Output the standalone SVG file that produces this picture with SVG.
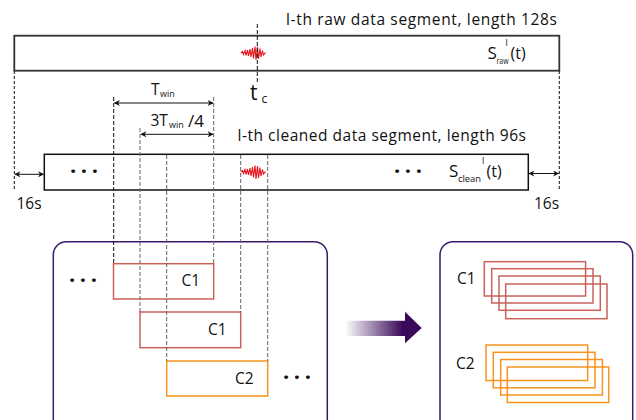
<svg xmlns="http://www.w3.org/2000/svg" width="636" height="420" viewBox="0 0 636 420">
<style>
text{font-family:"Open Sans","DejaVu Sans",sans-serif;fill:#111}
.lbl{font-size:15.5px}
.sub{font-size:9px}
.seg{fill:#fff;stroke:#333;stroke-width:1.8}
.dk{stroke:#111;stroke-width:1;stroke-dasharray:4 2;fill:none}
.gr{stroke:#666;stroke-width:1;stroke-dasharray:4 2;fill:none}
.ar{stroke:#111;stroke-width:1;fill:none;marker-start:url(#ah);marker-end:url(#ah)}
.sq{stroke:#e8141b;stroke-width:1.1;fill:none}
.red{fill:none;stroke:#c9625a;stroke-width:1.5}
.org{fill:none;stroke:#f7931e;stroke-width:1.5}
.box{fill:#fff;stroke:#3c1a6b;stroke-width:1.5}
.dot{font-size:22px;font-weight:bold}
</style>
<defs>
<marker id="ah" viewBox="0 0 10 10" refX="9" refY="5" markerWidth="8" markerHeight="6" markerUnits="userSpaceOnUse" orient="auto-start-reverse">
<path d="M0,0 L10,5 L0,10 L3,5 Z" fill="#111"/>
</marker>
<linearGradient id="g" x1="0" y1="0" x2="1" y2="0">
<stop offset="0" stop-color="#3a0a5a" stop-opacity="0"/>
<stop offset="0.75" stop-color="#3a0a5a"/>
<stop offset="1" stop-color="#3a0a5a"/>
</linearGradient>
</defs>

<g id="raw-segment">
<rect class="seg" x="14.3" y="35.7" width="545" height="35"/>
<text class="lbl" x="286" y="25" textLength="271" lengthAdjust="spacing">l-th raw data  segment, length 128s</text>
<path class="sq" d="M241,53 L242.5,51.5 L243.5,54.5 L245,50.5 L246,55.5 L247.5,50 L248.5,56 L250,49 L251,57 L252.5,48 L253.5,58.5 L255,46.5 L256,60 L257.5,47 L258.5,59 L260,48.5 L261,57 L262.5,50.5 L263.5,55 L265,53 L266,53"/>
<text x="487.5" y="59" style="font-size:17px">S</text>
<text class="sub" x="496.5" y="63.5" textLength="12" lengthAdjust="spacingAndGlyphs">raw</text>
<text class="sub" x="505.5" y="45.5">l</text>
<text x="510.5" y="59" style="font-size:16px">(t)</text>
</g>

<g id="tc">
<text x="250" y="100" style="font-size:21px">t</text>
<text x="261.5" y="102.5" style="font-size:12px">c</text>
</g>

<g id="clean-segment">
<rect class="seg" x="44.3" y="154.3" width="484" height="35.7" style="stroke:#111;stroke-width:1.5"/>
<text class="lbl" x="237.5" y="140.5" textLength="288.5" lengthAdjust="spacing">l-th cleaned data segment, length 96s</text>
<text class="dot" x="70" y="179" textLength="28" lengthAdjust="spacing">· · ·</text>
<text class="dot" x="394" y="179" textLength="28" lengthAdjust="spacing">· · ·</text>
<path class="sq" d="M241,172 L242.5,170.5 L243.5,173.5 L245,169.5 L246,174.5 L247.5,169 L248.5,175 L250,168 L251,176 L252.5,167 L253.5,177.5 L255,165.5 L256,179 L257.5,166 L258.5,178 L260,167.5 L261,176 L262.5,169.5 L263.5,174 L265,172 L266,172"/>
<text x="449" y="177" style="font-size:17px">S</text>
<text class="sub" x="458" y="181.5" textLength="23" lengthAdjust="spacingAndGlyphs">clean</text>
<text class="sub" x="482" y="163.5">l</text>
<text x="486.5" y="177" style="font-size:16px">(t)</text>
</g>

<g id="labels">
<text x="151" y="95" style="font-size:15.5px">T</text>
<text class="sub" x="160" y="97">win</text>
<text x="150.5" y="126" style="font-size:15.5px">3T</text>
<text class="sub" x="169" y="128">win</text>
<text x="188" y="126.5" style="font-size:17px">/4</text>
<text class="lbl" x="16.5" y="209">16s</text>
<text class="lbl" x="534" y="209">16s</text>
</g>

<g id="windows-box">
<rect class="box" x="53.3" y="241.7" width="274" height="200" rx="13"/>
<text class="dot" x="69" y="288" textLength="28" lengthAdjust="spacing">· · ·</text>
<text class="dot" x="283" y="385" textLength="28" lengthAdjust="spacing">· · ·</text>
</g>
<g id="win1">
<rect class="red" x="113.5" y="263.7" width="100.2" height="35.3"/>
<text class="lbl" x="181.5" y="286">C1</text>
</g>
<g id="win2">
<rect class="red" x="140" y="312" width="100.7" height="35.7"/>
<text class="lbl" x="208" y="335.3">C1</text>
</g>
<g id="win3">
<rect class="org" x="166.7" y="361" width="101" height="35"/>
<text class="lbl" x="235" y="384.3">C2</text>
</g>

<g id="clusters-box">
<rect class="box" x="440" y="241.7" width="192.7" height="200" rx="13"/>
<text class="lbl" x="457" y="283.5">C1</text>
<text class="lbl" x="456" y="368.5">C2</text>
<rect class="red" x="484.3" y="261.7" width="101.3" height="34.3"/>
<rect class="red" x="491.7" y="268.7" width="101.3" height="34.3"/>
<rect class="red" x="499" y="276" width="101.3" height="34.3"/>
<rect class="red" x="505.7" y="284" width="101.3" height="34.7"/>
<rect class="org" x="486" y="345" width="101.7" height="35.5"/>
<rect class="org" x="493.3" y="352.3" width="101.7" height="35.5"/>
<rect class="org" x="500.7" y="359.5" width="101.7" height="35.5"/>
<rect class="org" x="507.3" y="367" width="101.4" height="35.5"/>
</g>

<g id="connectors">
<line class="dk" x1="14.3" y1="71" x2="14.3" y2="190" style="stroke-dasharray:3 2"/>
<line class="dk" x1="559.3" y1="71" x2="559.3" y2="190" style="stroke-dasharray:3 2"/>
<line class="dk" x1="257.3" y1="24" x2="257.3" y2="82"/>
<line class="dk" x1="113.7" y1="97" x2="113.7" y2="263.7"/>
<line class="gr" x1="213.7" y1="97" x2="213.7" y2="263.7"/>
<line class="gr" x1="140" y1="128" x2="140" y2="312"/>
<line class="gr" x1="166.7" y1="155" x2="166.7" y2="361"/>
<line class="gr" x1="240.7" y1="155" x2="240.7" y2="312"/>
<line class="gr" x1="267.7" y1="155" x2="267.7" y2="361"/>
<line class="ar" x1="114.5" y1="103" x2="213" y2="103"/>
<line class="ar" x1="141" y1="134.3" x2="213" y2="134.3"/>
<line class="ar" x1="15" y1="174.3" x2="43.5" y2="174.3"/>
<line class="ar" x1="529" y1="173.5" x2="558.5" y2="173.5"/>
<polygon points="345,320.7 405,320.7 405,311.7 421.7,328 405,343.3 405,336 345,336" fill="url(#g)"/>
</g>
</svg>
